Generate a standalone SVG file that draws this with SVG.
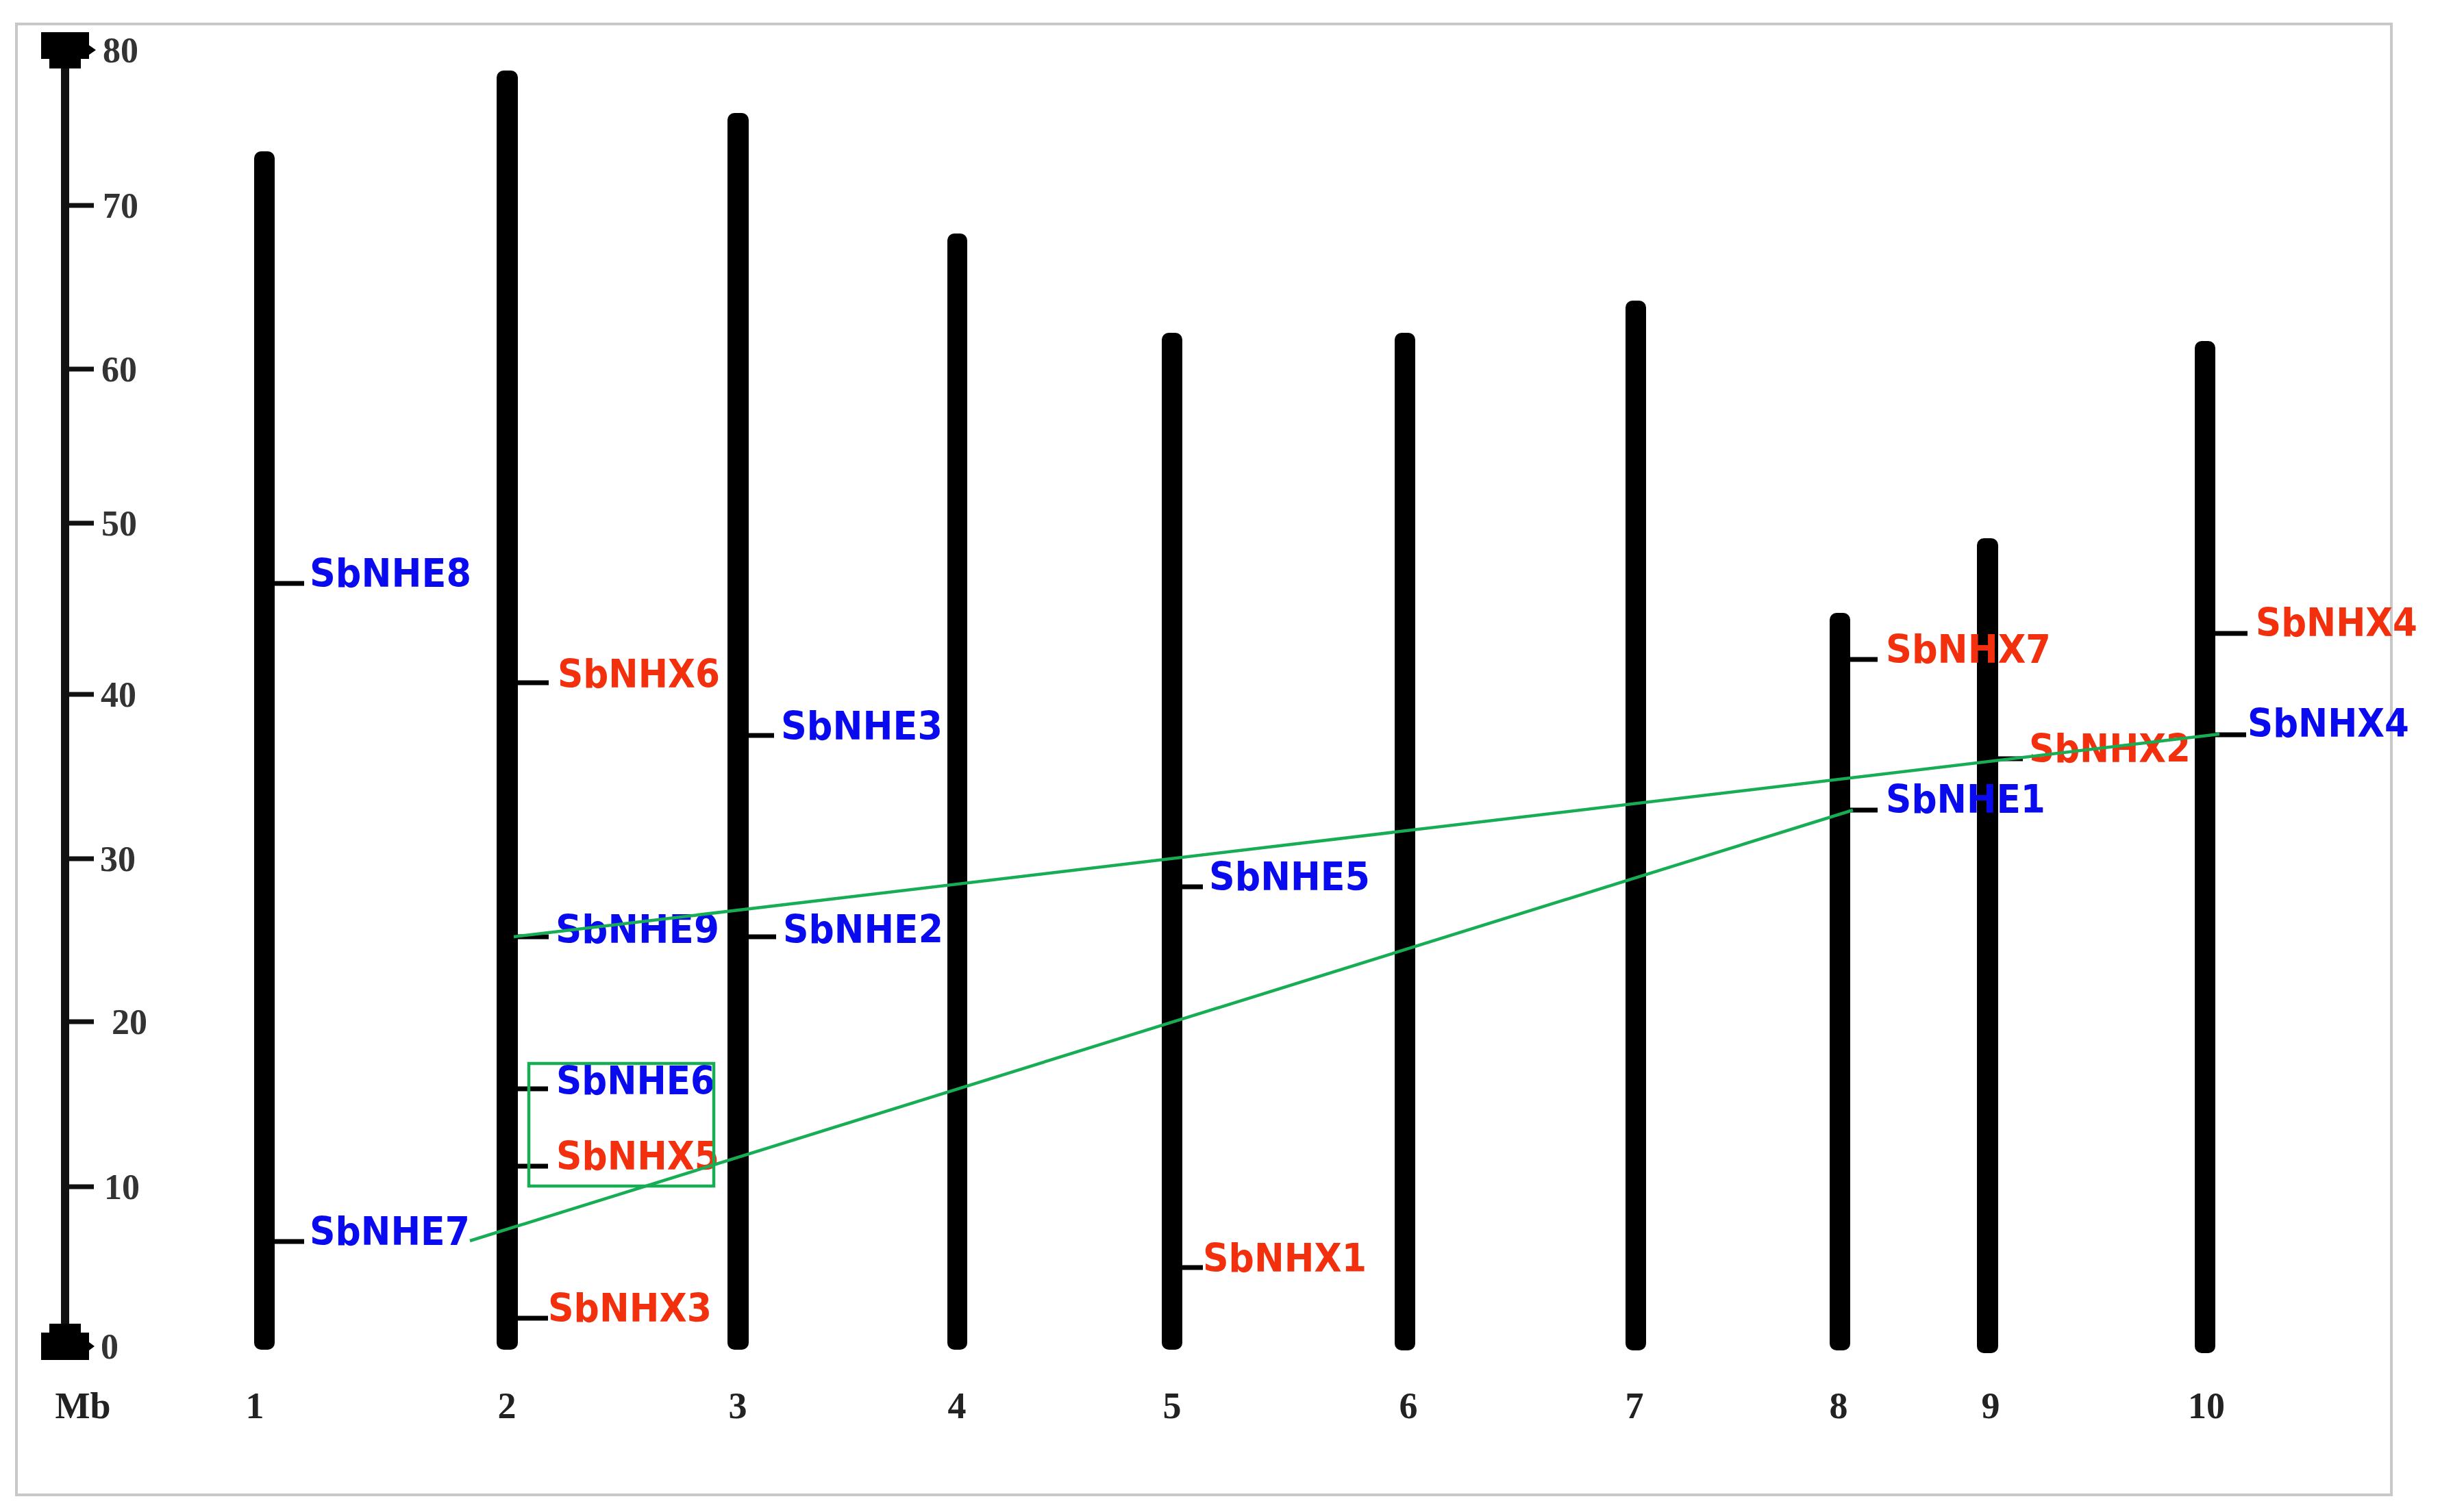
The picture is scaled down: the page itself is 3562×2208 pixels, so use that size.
<svg xmlns="http://www.w3.org/2000/svg" width="3562" height="2208" viewBox="0 0 3562 2208">
<style>
.chr{fill:#000}
.tk{stroke:#000;stroke-width:7}
.atk{stroke:#111;stroke-width:7}
.ax{font-family:"Liberation Serif","Times New Roman",serif;font-weight:bold;font-size:52px;fill:#333}
.num{font-family:"Liberation Serif","Times New Roman",serif;font-weight:bold;font-size:54px;fill:#222;text-anchor:middle}
.lb{font-family:"DejaVu Sans","Liberation Sans",sans-serif;font-weight:bold;font-size:57px}
.b{fill:#0a0aee}
.r{fill:#f2300e}
.conn{stroke:#16ad55;stroke-width:4.5;fill:none}
</style>
<rect x="0" y="0" width="3562" height="2208" fill="#fff"/>
<rect id="frame" x="24" y="35" width="3467" height="2148" fill="none" stroke="#c8c8c8" stroke-width="4"/>

<g id="axis">
  <line x1="95" y1="90" x2="95" y2="1945" stroke="#111" stroke-width="12"/>
  <path d="M60,47 H130 V66 L140,73 L130,80 V86 H118 V100 H72 V86 H60 Z" fill="#000"/>
  <path d="M72,1933 H118 V1946 H130 V1960 L138,1966 L130,1972 V1986 H60 V1946 H72 Z" fill="#000"/>
  <line class="atk" x1="95" y1="300" x2="137" y2="300"/>
  <line class="atk" x1="95" y1="539" x2="137" y2="539"/>
  <line class="atk" x1="95" y1="764" x2="137" y2="764"/>
  <line class="atk" x1="95" y1="1014" x2="137" y2="1014"/>
  <line class="atk" x1="95" y1="1254" x2="137" y2="1254"/>
  <line class="atk" x1="95" y1="1492" x2="137" y2="1492"/>
  <line class="atk" x1="95" y1="1733" x2="137" y2="1733"/>
  <text class="ax" x="150" y="91">80</text>
  <text class="ax" x="150" y="318">70</text>
  <text class="ax" x="148" y="557">60</text>
  <text class="ax" x="148" y="782">50</text>
  <text class="ax" x="147" y="1032">40</text>
  <text class="ax" x="146" y="1272">30</text>
  <text class="ax" x="163" y="1510">20</text>
  <text class="ax" x="152" y="1751">10</text>
  <text class="ax" x="147" y="1984">0</text>
  <text class="num" x="121" y="2071">Mb</text>
</g>

<g id="chr1"><rect class="chr" x="371" y="221" width="30" height="1750" rx="10"/><text class="num" x="372" y="2071">1</text></g>
<g id="chr2"><rect class="chr" x="725" y="103" width="31" height="1868" rx="10"/><text class="num" x="740" y="2071">2</text></g>
<g id="chr3"><rect class="chr" x="1062" y="165" width="31" height="1806" rx="10"/><text class="num" x="1077" y="2071">3</text></g>
<g id="chr4"><rect class="chr" x="1383" y="341" width="29" height="1630" rx="10"/><text class="num" x="1397" y="2071">4</text></g>
<g id="chr5"><rect class="chr" x="1696" y="486" width="30" height="1485" rx="10"/><text class="num" x="1711" y="2071">5</text></g>
<g id="chr6"><rect class="chr" x="2036" y="486" width="30" height="1486" rx="10"/><text class="num" x="2056" y="2071">6</text></g>
<g id="chr7"><rect class="chr" x="2373" y="439" width="30" height="1533" rx="10"/><text class="num" x="2386" y="2071">7</text></g>
<g id="chr8"><rect class="chr" x="2671" y="895" width="30" height="1077" rx="10"/><text class="num" x="2684" y="2071">8</text></g>
<g id="chr9"><rect class="chr" x="2886" y="786" width="31" height="1190" rx="10"/><text class="num" x="2906" y="2071">9</text></g>
<g id="chr10"><rect class="chr" x="3204" y="498" width="30" height="1478" rx="10"/><text class="num" x="3221" y="2071">10</text></g>

<g id="SbNHE8"><line class="tk" x1="398" y1="852" x2="444" y2="852"/><text class="lb b" x="452" y="857" textLength="236" lengthAdjust="spacingAndGlyphs">SbNHE8</text></g>
<g id="SbNHE7"><line class="tk" x1="398" y1="1813" x2="444" y2="1813"/><text class="lb b" x="452" y="1818" textLength="234" lengthAdjust="spacingAndGlyphs">SbNHE7</text></g>
<g id="SbNHX6"><line class="tk" x1="753" y1="997" x2="801" y2="997"/><text class="lb r" x="814" y="1004" textLength="237" lengthAdjust="spacingAndGlyphs">SbNHX6</text></g>
<g id="SbNHE9"><line class="tk" x1="753" y1="1368" x2="801" y2="1368"/><text class="lb b" x="811" y="1377" textLength="239" lengthAdjust="spacingAndGlyphs">SbNHE9</text></g>
<g id="SbNHE6"><line class="tk" x1="753" y1="1590" x2="800" y2="1590"/><text class="lb b" x="812" y="1598" textLength="232" lengthAdjust="spacingAndGlyphs">SbNHE6</text></g>
<g id="SbNHX5"><line class="tk" x1="753" y1="1703" x2="800" y2="1703"/><text class="lb r" x="812" y="1708" textLength="238" lengthAdjust="spacingAndGlyphs">SbNHX5</text></g>
<g id="SbNHX3"><line class="tk" x1="753" y1="1925" x2="800" y2="1925"/><text class="lb r" x="800" y="1930" textLength="239" lengthAdjust="spacingAndGlyphs">SbNHX3</text></g>
<g id="SbNHE3"><line class="tk" x1="1090" y1="1074" x2="1130" y2="1074"/><text class="lb b" x="1140" y="1080" textLength="236" lengthAdjust="spacingAndGlyphs">SbNHE3</text></g>
<g id="SbNHE2"><line class="tk" x1="1090" y1="1368" x2="1133" y2="1368"/><text class="lb b" x="1143" y="1377" textLength="234" lengthAdjust="spacingAndGlyphs">SbNHE2</text></g>
<g id="SbNHE5"><line class="tk" x1="1724" y1="1295" x2="1756" y2="1295"/><text class="lb b" x="1765" y="1300" textLength="235" lengthAdjust="spacingAndGlyphs">SbNHE5</text></g>
<g id="SbNHX1"><line class="tk" x1="1724" y1="1851" x2="1756" y2="1851"/><text class="lb r" x="1756" y="1857" textLength="239" lengthAdjust="spacingAndGlyphs">SbNHX1</text></g>
<g id="SbNHX7"><line class="tk" x1="2698" y1="963" x2="2741" y2="963"/><text class="lb r" x="2753" y="968" textLength="241" lengthAdjust="spacingAndGlyphs">SbNHX7</text></g>
<g id="SbNHE1"><line class="tk" x1="2698" y1="1183" x2="2741" y2="1183"/><text class="lb b" x="2753" y="1187" textLength="233" lengthAdjust="spacingAndGlyphs">SbNHE1</text></g>
<g id="SbNHX2"><line class="tk" x1="2914" y1="1108" x2="2953" y2="1108"/><text class="lb r" x="2962" y="1113" textLength="236" lengthAdjust="spacingAndGlyphs">SbNHX2</text></g>
<g id="SbNHX4-red"><line class="tk" x1="3231" y1="925" x2="3281" y2="925"/><text class="lb r" x="3293" y="929" textLength="236" lengthAdjust="spacingAndGlyphs">SbNHX4</text></g>
<g id="SbNHX4-blue"><line class="tk" x1="3231" y1="1073" x2="3279" y2="1073"/><text class="lb b" x="3281" y="1076" textLength="236" lengthAdjust="spacingAndGlyphs">SbNHX4</text></g>

<g id="connectors">
  <rect class="conn" x="772" y="1553" width="270" height="179"/>
  <line class="conn" x1="750" y1="1368" x2="3240" y2="1072"/>
  <line class="conn" x1="686" y1="1812" x2="2705" y2="1183"/>
</g>
</svg>
